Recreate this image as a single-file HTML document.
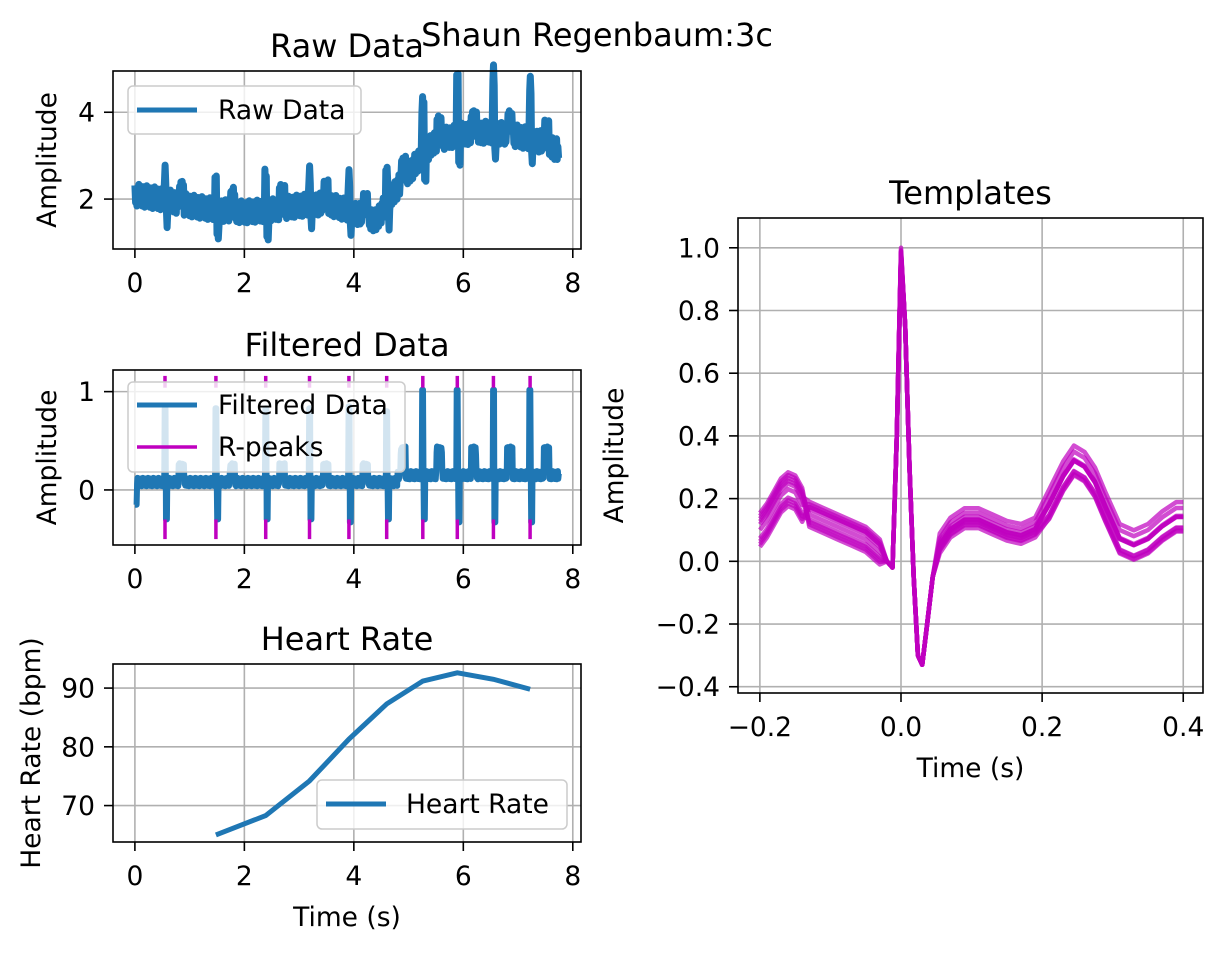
<!DOCTYPE html>
<html><head><meta charset="utf-8"><style>
body{margin:0;background:#fff}
svg{font-family:"DejaVu Sans","Liberation Sans",sans-serif}
</style></head><body>
<svg id="c" width="1227" height="950" xmlns="http://www.w3.org/2000/svg">
<rect width="1227" height="950" fill="#fff"/>
<text x="597" y="46" font-size="32" text-anchor="middle">Shaun Regenbaum:3c</text>
</svg>
<script>
// ---- data ----
const rpeakTimes=[0.55,1.48,2.39,3.19,3.91,4.60,5.26,5.89,6.55,7.22];
const rawBaseT=[0,0.5,1,1.5,2,2.5,3,3.5,4,4.4,4.7,5,5.25,5.5,6,6.5,7,7.5,7.75];
const rawBaseV=[2.1,2.0,1.85,1.75,1.7,1.75,1.85,1.9,1.7,1.5,2.1,2.6,3.0,3.35,3.5,3.55,3.45,3.3,3.1];
const rawSpike=[0.6,0.6,0.7,0.75,0.8,0.6,1.1,1.2,1.3,1.3];
const filtPeak=[0.83,0.83,0.83,0.83,0.85,0.8,1.02,1.02,1.02,1.02];
const filtTrough=[-0.3,-0.3,-0.3,-0.3,-0.33,-0.3,-0.3,-0.33,-0.33,-0.33];
const hrTimes=[1.48,2.39,3.19,3.91,4.60,5.26,5.89,6.55,7.22];
const hrValues=[65,68.3,74.2,81.3,87.3,91.2,92.6,91.5,89.8];
const tmplT=[-0.2,-0.19,-0.18,-0.17,-0.16,-0.15,-0.14,-0.13,-0.11,-0.09,-0.07,-0.05,-0.03,-0.02,-0.012,-0.006,0,0.006,0.012,0.018,0.024,0.03,0.036,0.045,0.055,0.07,0.09,0.11,0.13,0.15,0.17,0.19,0.21,0.23,0.245,0.26,0.275,0.29,0.31,0.33,0.35,0.37,0.39,0.4];
const tmplV=[0.1,0.13,0.17,0.21,0.23,0.22,0.18,0.15,0.13,0.11,0.09,0.07,0.03,0.0,-0.02,0.4,1.0,0.75,0.3,-0.05,-0.3,-0.33,-0.22,-0.05,0.05,0.1,0.13,0.13,0.11,0.09,0.08,0.1,0.17,0.26,0.31,0.29,0.24,0.16,0.06,0.04,0.06,0.1,0.13,0.13];
const tmplOffA=[0.06,-0.05,0.03,-0.04,0.0,0.05,-0.03,0.02,-0.06,0.04];
const tmplOffB=[-0.04,0.03,0.05,-0.02,0.04,-0.05,0.02,-0.03,0.03,0.0];

const NS="http://www.w3.org/2000/svg", svg=document.getElementById('c');
function el(tag,attrs,parent){const e=document.createElementNS(NS,tag);for(const k in attrs)e.setAttribute(k,attrs[k]);(parent||svg).appendChild(e);return e;}
function interp(T,V,t){if(t<=T[0])return V[0];for(let i=1;i<T.length;i++)if(t<=T[i]){const f=(t-T[i-1])/(T[i]-T[i-1]);return V[i-1]+f*(V[i]-V[i-1]);}return V[V.length-1];}
const jitter=[0.12,-0.1,0.08,-0.14,0.1,-0.06,0.14,-0.12,0.05,-0.09,0.11,-0.13];
const FS=26.5, TFS=32;

function axes(name,x0,x1,y0,y1,xmin,xmax,ymin,ymax,xt,yt,ylab,title,xlabel,ylx,fmt){
  const sx=v=>x0+(v-xmin)/(xmax-xmin)*(x1-x0), sy=v=>y1-(v-ymin)/(ymax-ymin)*(y1-y0);
  const g=el('g',{});
  xt.forEach(v=>{el('line',{x1:sx(v),x2:sx(v),y1:y0,y2:y1,stroke:'#b0b0b0','stroke-width':1.6},g);el('line',{x1:sx(v),x2:sx(v),y1:y1,y2:y1+9,stroke:'#000','stroke-width':1.6},g);
    const t=el('text',{x:sx(v),y:y1+43,'font-size':FS,'text-anchor':'middle'},g);t.textContent=fmt(v);});
  yt.forEach(v=>{el('line',{x1:x0,x2:x1,y1:sy(v),y2:sy(v),stroke:'#b0b0b0','stroke-width':1.6},g);el('line',{x1:x0-9,x2:x0,y1:sy(v),y2:sy(v),stroke:'#000','stroke-width':1.6},g);
    const tt=el('text',{x:x0-18,y:sy(v)+9.5,'font-size':FS,'text-anchor':'end'},g);tt.textContent=fmt(v);});
  const t=el('text',{x:(x0+x1)/2,y:y0-14,'font-size':TFS,'text-anchor':'middle'},g);t.textContent=title;
  const yl=el('text',{x:ylx,y:(y0+y1)/2,'font-size':FS,'text-anchor':'middle',transform:`rotate(-90 ${ylx} ${(y0+y1)/2})`},g);yl.textContent=ylab;
  if(xlabel){const xl=el('text',{x:(x0+x1)/2,y:y1+84,'font-size':FS,'text-anchor':'middle'},g);xl.textContent=xlabel;}
  return {g,sx,sy,frame:()=>el('rect',{x:x0,y:y0,width:x1-x0,height:y1-y0,fill:'none',stroke:'#000','stroke-width':1.6},g)};
}
const fmtI=v=>String(v);
const fmtT=v=>(v<0?'\u2212':'')+Math.abs(v).toFixed(1);

// Raw
const A=axes('raw-data-panel',113,581,71,249,-0.4,8.15,0.85,4.95,[0,2,4,6,8],[2,4],'Amplitude','Raw Data',null,56,fmtI);
{let d='',n=0;for(let t=0;t<=7.75;t+=0.012){let v=interp(rawBaseT,rawBaseV,t)+jitter[n%12]*1.8;rpeakTimes.forEach((p,i)=>{const dt=t-p;if(Math.abs(dt)<0.02)v+=rawSpike[i];else if(Math.abs(dt-0.04)<0.02)v-=0.45;else if(Math.abs(dt-0.3)<0.05)v+=0.3;});d+=(n?'L':'M')+A.sx(t).toFixed(1)+','+A.sy(v).toFixed(1);n++;}
const p=el('path',{d,fill:'none',stroke:'#1f77b4','stroke-width':7,'stroke-linejoin':'round'},A.g);}
A.frame();
{const lg=el('g',{},A.g);
el('rect',{x:128,y:86,width:233,height:48,rx:5,fill:'rgba(255,255,255,0.8)',stroke:'#ccc','stroke-width':1.5},lg);
el('line',{x1:137,x2:197,y1:110,y2:110,stroke:'#1f77b4','stroke-width':5},lg);
el('text',{x:218,y:119,'font-size':FS},lg).textContent='Raw Data';}

// Filtered
const F=axes('filtered-data-panel',113,581,370,545,-0.4,8.15,-0.56,1.22,[0,2,4,6,8],[0,1],'Amplitude','Filtered Data',null,56,fmtI);
{let d='',n=0;for(let t=0;t<=7.75;t+=0.008){let v=(t<4.8?0.08:0.15)+jitter[n%12]*0.3;rpeakTimes.forEach((p,i)=>{const dt=t-p;if(Math.abs(dt)<0.012)v=filtPeak[i];else if(Math.abs(dt-0.03)<0.012)v=filtTrough[i];else if(Math.abs(dt-0.3)<0.05)v+=(t<4.8?0.15:0.25);});if(t<0.04)v=-0.15;d+=(n?'L':'M')+F.sx(t).toFixed(1)+','+F.sy(v).toFixed(1);n++;}
const p=el('path',{d,fill:'none',stroke:'#1f77b4','stroke-width':6,'stroke-linejoin':'round'},F.g);}
rpeakTimes.forEach(t=>{const l=el('line',{x1:F.sx(t),x2:F.sx(t),y1:F.sy(1.16),y2:F.sy(1.04),stroke:'#bf00bf','stroke-width':3.5},F.g);
 el('line',{x1:F.sx(t),x2:F.sx(t),y1:F.sy(-0.3),y2:F.sy(-0.5),stroke:'#bf00bf','stroke-width':3.5},F.g);});
F.frame();
{const lg=el('g',{},F.g);
el('rect',{x:128,y:382,width:277,height:90,rx:5,fill:'rgba(255,255,255,0.8)',stroke:'#ccc','stroke-width':1.5},lg);
el('line',{x1:137,x2:197,y1:405,y2:405,stroke:'#1f77b4','stroke-width':5},lg);
el('text',{x:218,y:414,'font-size':FS},lg).textContent='Filtered Data';
el('line',{x1:137,x2:197,y1:447,y2:447,stroke:'#bf00bf','stroke-width':3.5},lg);
el('text',{x:218,y:456,'font-size':FS},lg).textContent='R-peaks';}

// Heart rate
const H=axes('heart-rate-panel',113,581,664,842,-0.4,8.15,63.8,94.1,[0,2,4,6,8],[70,80,90],'Heart Rate (bpm)','Heart Rate','Time (s)',40,fmtI);
{const d=hrTimes.map((t,i)=>(i?'L':'M')+H.sx(t)+','+H.sy(hrValues[i])).join('');
const p=el('path',{d,fill:'none',stroke:'#1f77b4','stroke-width':5}, H.g);}
H.frame();
{const lg=el('g',{},H.g);
el('rect',{x:317,y:780,width:250,height:49,rx:5,fill:'rgba(255,255,255,0.8)',stroke:'#ccc','stroke-width':1.5},lg);
el('line',{x1:326,x2:386,y1:804,y2:804,stroke:'#1f77b4','stroke-width':5},lg);
el('text',{x:406,y:813,'font-size':FS},lg).textContent='Heart Rate';}

// Templates
const T=axes('templates-panel',738,1203,218,693,-0.231,0.428,-0.42,1.095,[-0.2,0,0.2,0.4],[-0.4,-0.2,0,0.2,0.4,0.6,0.8,1.0],'Amplitude','Templates','Time (s)',623,fmtT);
tmplOffA.forEach((a,k)=>{const b=tmplOffB[k];
 const d=tmplT.map((t,i)=>{let v=tmplV[i];if(t<-0.13)v+=a*0.9;else if(t<-0.02)v+=b*0.8;else if(t>0.05)v+=(t>0.2?b:b*0.6)+a*0.3;if(t===0)v-=Math.abs(a)*0.4;return (i?'L':'M')+T.sx(t).toFixed(1)+','+T.sy(v).toFixed(1);}).join('');
 const p=el('path',{d,fill:'none',stroke:'#bf00bf','stroke-width':4.5,'stroke-opacity':0.7,'stroke-linejoin':'round'},T.g);
 });
T.frame();
</script>
</body></html>
